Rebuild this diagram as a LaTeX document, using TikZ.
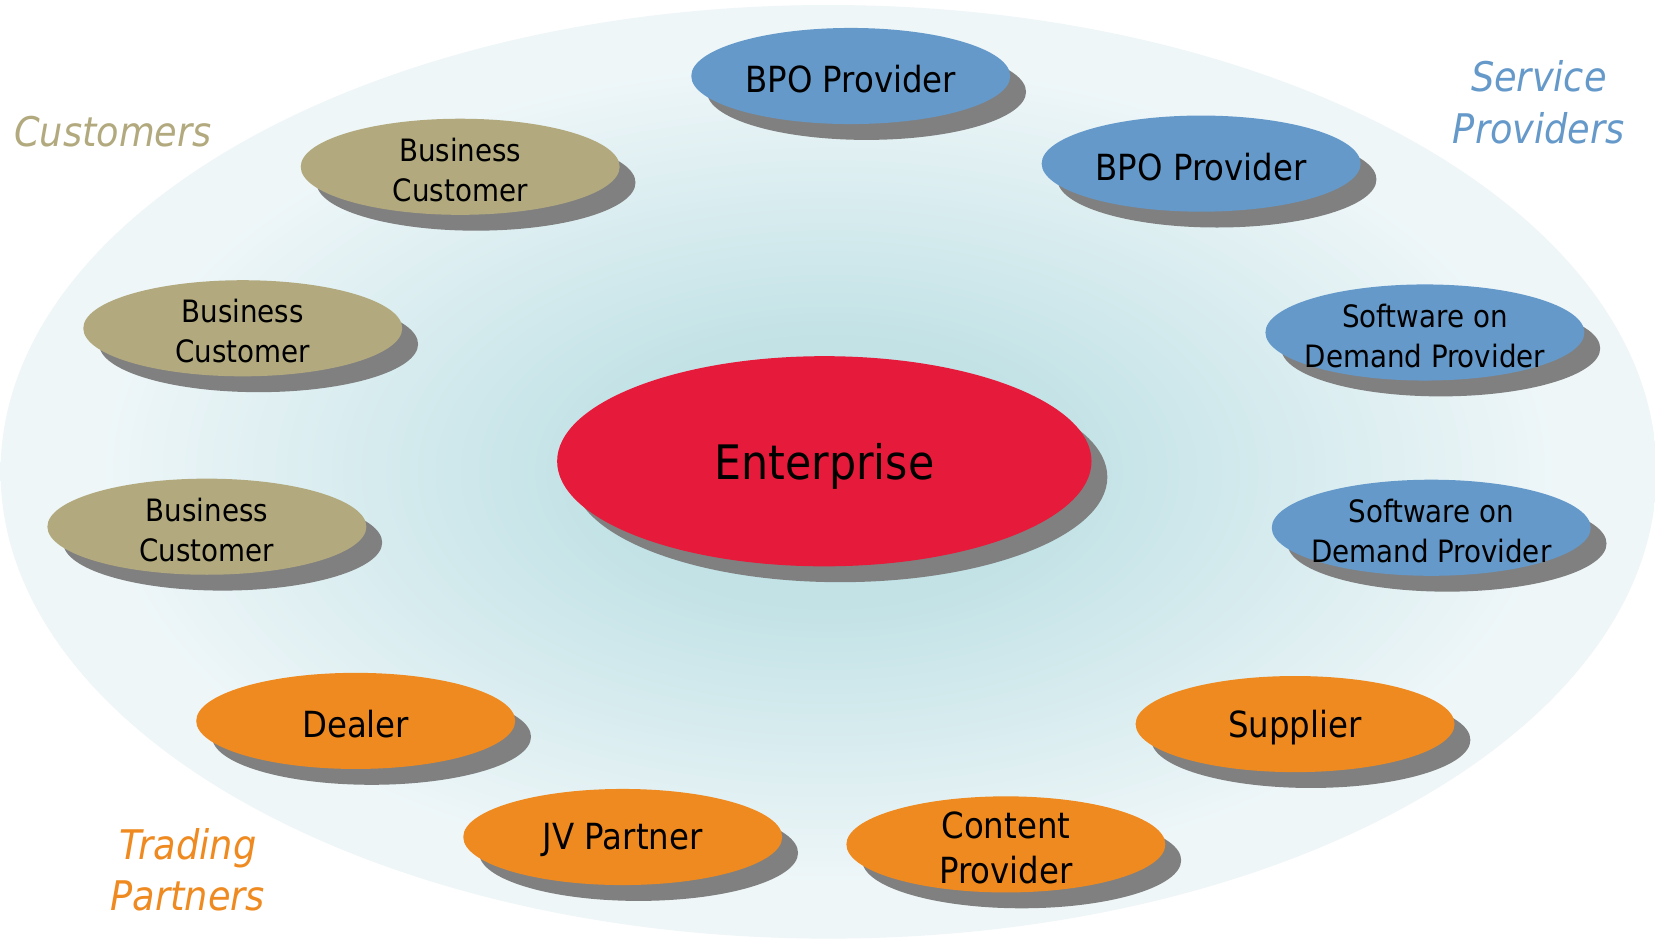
\documentclass[tikz,border=0pt]{standalone}
\usepackage{fontspec}
\setmainfont{DejaVu Sans Condensed}
\usetikzlibrary{shapes.geometric,shadows}
\definecolor{svcblue}{RGB}{101,153,202}
\definecolor{custtan}{RGB}{178,170,126}
\definecolor{tradeorange}{RGB}{239,138,32}
\definecolor{entred}{RGB}{230,26,58}
\definecolor{shadowgray}{RGB}{128,128,128}
\definecolor{haloin}{RGB}{194,226,230}
\definecolor{haloout}{RGB}{238,246,248}
\pgfdeclareradialshading{halo}{\pgfpoint{0bp}{0bp}}{color(0bp)=(haloin); color(7bp)=(haloin); color(22bp)=(haloout); color(25bp)=(haloout); color(50bp)=(haloout)}

\begin{document}
\begin{tikzpicture}[x=0.01cm,y=-0.01cm,
    partner/.style={ellipse, minimum width=3.02cm, minimum height=0.91cm, inner sep=0pt, fill=#1,
      drop shadow={shadow xshift=0.15cm, shadow yshift=-0.15cm, fill=shadowgray, opacity=1}},
    bigtext/.style={font=\fontsize{9.7}{12.2}\selectfont, align=center, yshift=-0.03cm},
    smalltext/.style={font=\fontsize{8.3}{10.8}\selectfont, align=center, yshift=-0.03cm},
    group/.style={font=\fontsize{11}{13.9}\selectfont\itshape, align=center, text=#1}]
  \fill[white] (0,0) rectangle (1568,890);
  \useasboundingbox (0,0) rectangle (1568,890);
  \shade[shading=halo] (785,447) ellipse [x radius=7.84cm, y radius=4.42cm];

  % group titles
  \node[group=custtan] (custT) at (107,125) {Customers};
  \node[group=svcblue] (svcT) at (1458,97) {Service\\Providers};
  \node[group=tradeorange] (tradeT) at (178,824) {Trading\\Partners};

  % the enterprise
  \node[ellipse, minimum width=5.06cm, minimum height=1.99cm, inner sep=0pt, fill=entred,
    drop shadow={shadow xshift=0.15cm, shadow yshift=-0.15cm, fill=shadowgray, opacity=1},
    label={[font=\fontsize{12.8}{15}\selectfont, yshift=-0.05cm]center:Enterprise}] (ent) at (781,437) {};

  % service providers
  \node[partner=svcblue, label={[bigtext]center:BPO Provider}] (bpoA) at (806,72) {};
  \node[partner=svcblue, label={[bigtext]center:BPO Provider}] (bpoB) at (1138,155) {};
  \node[partner=svcblue, label={[smalltext]center:Software on\\Demand Provider}] (sodA) at (1350,315) {};
  \node[partner=svcblue, label={[smalltext]center:Software on\\Demand Provider}] (sodB) at (1356,500) {};

  % customers
  \node[partner=custtan, label={[smalltext]center:Business\\Customer}] (bcA) at (436,158) {};
  \node[partner=custtan, label={[smalltext]center:Business\\Customer}] (bcB) at (230,311) {};
  \node[partner=custtan, label={[smalltext]center:Business\\Customer}] (bcC) at (196,499) {};

  % trading partners
  \node[partner=tradeorange, label={[bigtext]center:Dealer}] (dealer) at (337,683) {};
  \node[partner=tradeorange, label={[bigtext]center:JV Partner}] (jv) at (590,793) {};
  \node[partner=tradeorange, label={[bigtext]center:Content\\Provider}] (content) at (953,800) {};
  \node[partner=tradeorange, label={[bigtext]center:Supplier}] (supplier) at (1227,686) {};
\end{tikzpicture}
\end{document}
